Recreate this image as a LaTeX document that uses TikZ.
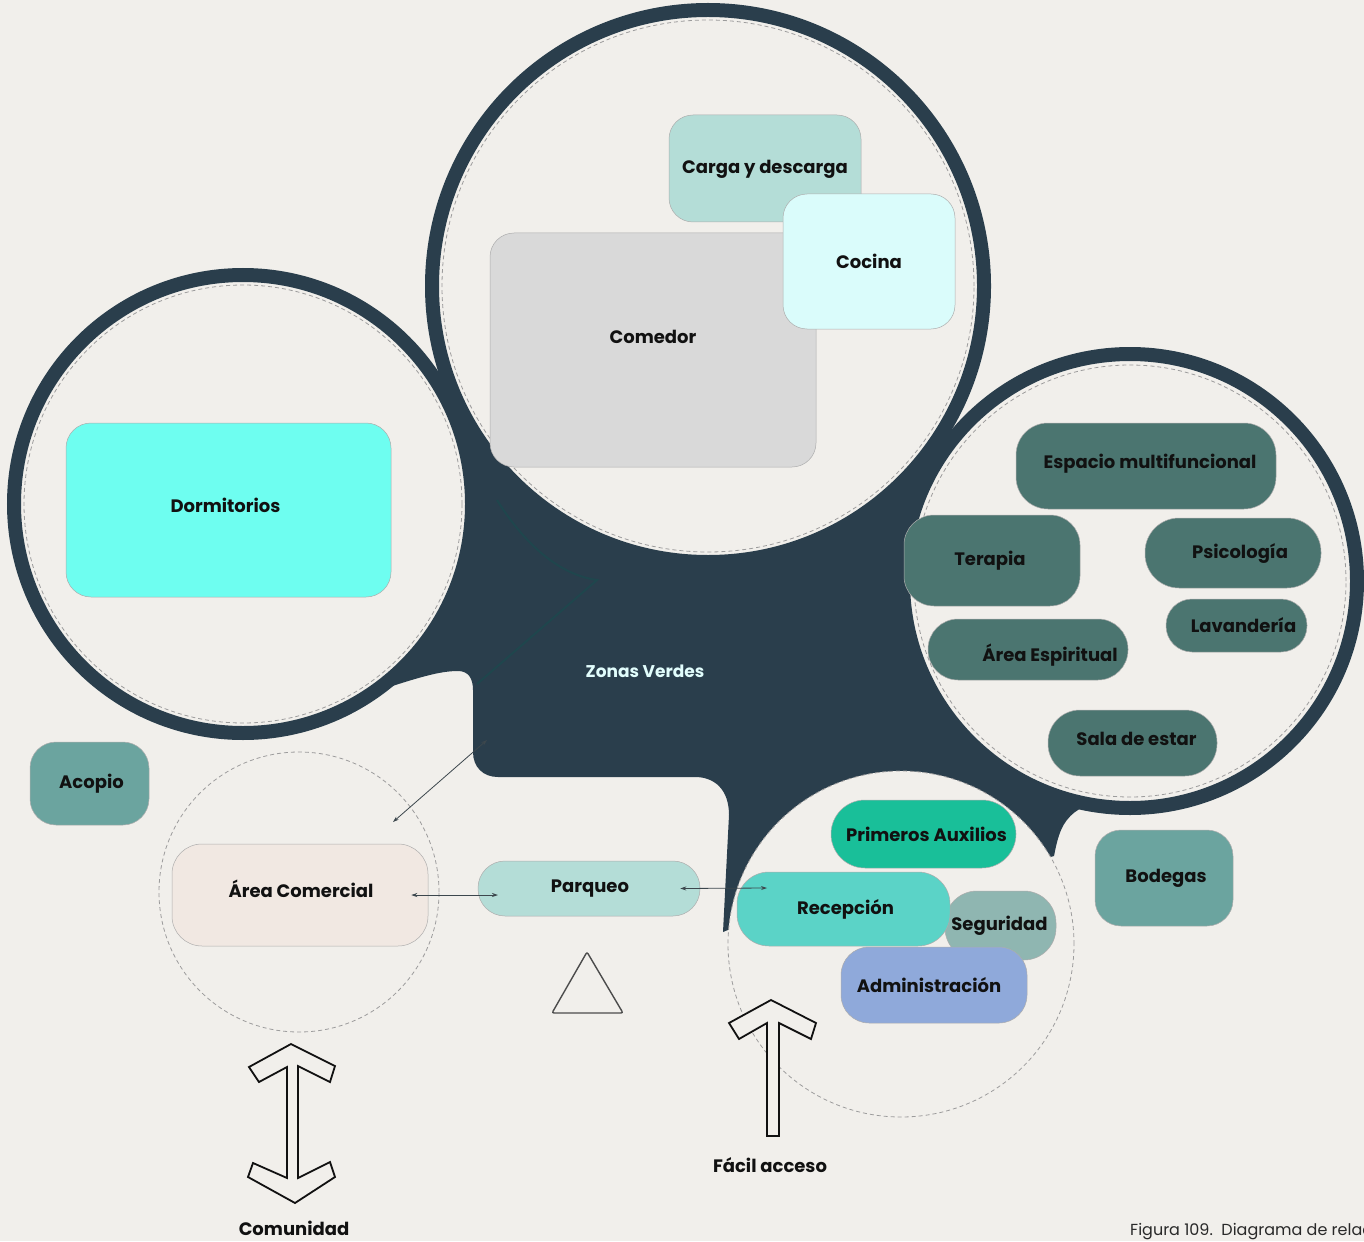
\documentclass[tikz,border=0pt]{standalone}
\usepackage{fontspec}
\setmainfont{Poppins}
\usetikzlibrary{arrows.meta}

\definecolor{fondo}{HTML}{F1EFEB}
\definecolor{zona}{HTML}{2A3E4C}
\definecolor{zonaclara}{HTML}{1F464D}
\definecolor{borde}{HTML}{ADADAD}
\definecolor{tinta}{HTML}{111111}
\definecolor{guiagris}{HTML}{9C9C9C}
\definecolor{flechagris}{HTML}{3C474D}
\definecolor{carga}{HTML}{B4DDD7}
\definecolor{gris}{HTML}{D9D9D9}
\definecolor{hielo}{HTML}{DAFCFB}
\definecolor{aqua}{HTML}{6EFEF0}
\definecolor{pizarra}{HTML}{4B7570}
\definecolor{esmeralda}{HTML}{19BF99}
\definecolor{salvia}{HTML}{8FB6B1}
\definecolor{turquesa}{HTML}{5BD3C7}
\definecolor{lavanda}{HTML}{8FA9DA}
\definecolor{musgo}{HTML}{6BA49F}
\definecolor{arena}{HTML}{F1E8E2}

\tikzstyle{anillo}=[circle, draw=zona, line width=14pt, fill=fondo]
\tikzstyle{guia}=[circle, draw=guiagris, line width=0.8pt, dash pattern=on 4pt off 3pt]
\tikzstyle{sala}=[draw=borde, line width=0.5pt, inner sep=0pt]
\tikzstyle{rotulo}=[font=\bfseries\fontsize{18}{21}\selectfont, text=tinta, inner sep=0pt]
\tikzstyle{flecha}=[{Stealth[length=6pt,width=4pt]}-{Stealth[length=6pt,width=4pt]}, draw=flechagris, line width=0.8pt]
\tikzstyle{acceso}=[draw=tinta, line width=1.8pt, line join=miter, fill=fondo]

\begin{document}
\begin{tikzpicture}[x=1pt, y=-1pt]

	\useasboundingbox (0,0) rectangle (1364,1241);
	\fill[fondo] (0,0) rectangle (1364,1241);

		% Zonas verdes (hub between the circles)
		\fill[zona] (380,690) .. controls (420,677) and (440,671) .. (458,671)
			.. controls (468,671) and (473,678) .. (473,690) -- (473,752)
			.. controls (473,767) and (483,777) .. (498,777) -- (695,777)
			.. controls (715,777) and (729,790) .. (729,815) -- (723,932)
			-- (740,925) -- (1040,860) -- (1054,856)
			.. controls (1058,835) and (1062,822) .. (1075,812)
			.. controls (1085,805) and (1095,800) .. (1105,797)
			-- (1120,500) -- (960,470) -- (920,420) -- (900,250) -- (500,250)
			-- (470,380) -- (420,420) -- (300,450) -- cycle;

		% Circles
		\node[anillo, minimum size=458pt] (cDorm) at (243,504) {};
		\node[anillo, minimum size=552pt] (cComedor) at (708,286) {};
		\node[anillo, minimum size=454pt] (cServ) at (1130,581) {};
		\node[circle, fill=fondo, minimum size=346pt] (cRecep) at (901,944) {};
		\foreach \xpos/\ypos/\d/\lab in {243/504/438/gDorm, 708/286/532/gComedor, 1130/581/432/gServ, 901/944/346/gRecep, 299/892/280/gComercial}
		\node[guia, minimum size=\d pt] (\lab) at (\xpos,\ypos) {};

		\draw[zonaclara, line width=2pt] (497,500) .. controls (525,545) and (560,575) .. (597,580) -- (477,684);

		% Rooms
		\foreach \xpos/\ypos/\w/\h/\r/\col/\dx/\dy/\lab/\txt in {
			765/168.5/192/107/24/carga/0/-1/carga/Carga y descarga,
			653/350/326/234/24/gris/0/13/comedor/Comedor,
			869/261.5/172/135/24/hielo/0/0/cocina/Cocina,
			228.5/510/325/174/25/aqua/-3/5/dorm/Dormitorios,
			1146/466/260/86/32/pizarra/4/2/espacio/Espacio multifuncional,
			992/560.5/176/91/30/pizarra/-2/0/terapia/Terapia,
			1233/553/176/70/34/pizarra/7/0/psico/Psicología,
			1236.5/625.5/141/53/26/pizarra/7/0/lavan/Lavandería,
			1028/649.5/200/61/30/pizarra/22/-6/espiritual/Área Espiritual,
			1132.5/743/169/66/32/pizarra/4/4/estar/Sala de estar,
			923.5/834/185/68/34/esmeralda/3/0/auxilios/Primeros Auxilios,
			1000.5/925.5/111/69/32/salvia/-1/0/seguridad/Seguridad,
			843.5/909/213/74/32/turquesa/2/0/recepcion/Recepción,
			934/985/186/76/28/lavanda/-5/0/admin/Administración,
			89.5/783.5/119/83/26/musgo/2/0/acopio/Acopio,
			1164/878/138/96/26/musgo/2/0/bodegas/Bodegas,
			300/895/256/102/30/arena/1/6/comercial/Área Comercial,
			589/888.5/222/55/27/carga/1/0/parqueo/Parqueo}
		\node[sala, fill=\col, rounded corners=\r pt, minimum width=\w pt, minimum height=\h pt,
			label={[rotulo, xshift=\dx pt, yshift=\dy pt]center:\txt}] (\lab) at (\xpos,\ypos) {};

		\node[font=\bfseries\fontsize{17}{20}\selectfont, text=hielo!80!white] (zonas) at (645,671) {Zonas Verdes};

		% Connections
		\coordinate (zvEsq) at (487,740);
		\coordinate (acSup) at (393,822);
		\coordinate (pqIzq) at (498,895);
		\coordinate (rcIzq) at (767,888);
		\draw[flecha] (zvEsq) -- (acSup);
		\draw[flecha] ([xshift=-17pt]comercial.east) -- (pqIzq);
		\draw[flecha] ([xshift=-20pt]parqueo.east) -- (rcIzq);

		\draw[draw=black!70, line width=1.4pt, rounded corners=2pt] (587,952) -- (623,1013) -- (552,1013) -- cycle;

		% Access arrows
		\draw[acceso] (771,1000) -- (816,1023) -- (811,1039) -- (779,1023) -- (779,1136)
			-- (767,1136) -- (767,1023) -- (739,1039) -- (729,1023) -- cycle;
		\draw[acceso] (291,1044) -- (335,1066) -- (330,1082) -- (298,1066) -- (298,1178)
			-- (330,1162) -- (335,1177) -- (295,1203) -- (248,1177) -- (253,1163)
			-- (287,1178) -- (287,1067) -- (259,1082) -- (249,1067) -- cycle;
		\node[rotulo] (facil) at (770,1165) {Fácil acceso};
		\node[rotulo] (comunidad) at (294,1228) {Comunidad};

		\begin{scope}
		\clip (0,0) rectangle (1364,1241);
		\node[anchor=west, font=\fontsize{16}{19}\selectfont, text=tinta!90, inner sep=0pt] (figura) at (1130,1232) {Figura 109.\ \ Diagrama de relaciones};
		\end{scope}
\end{tikzpicture}
\end{document}
